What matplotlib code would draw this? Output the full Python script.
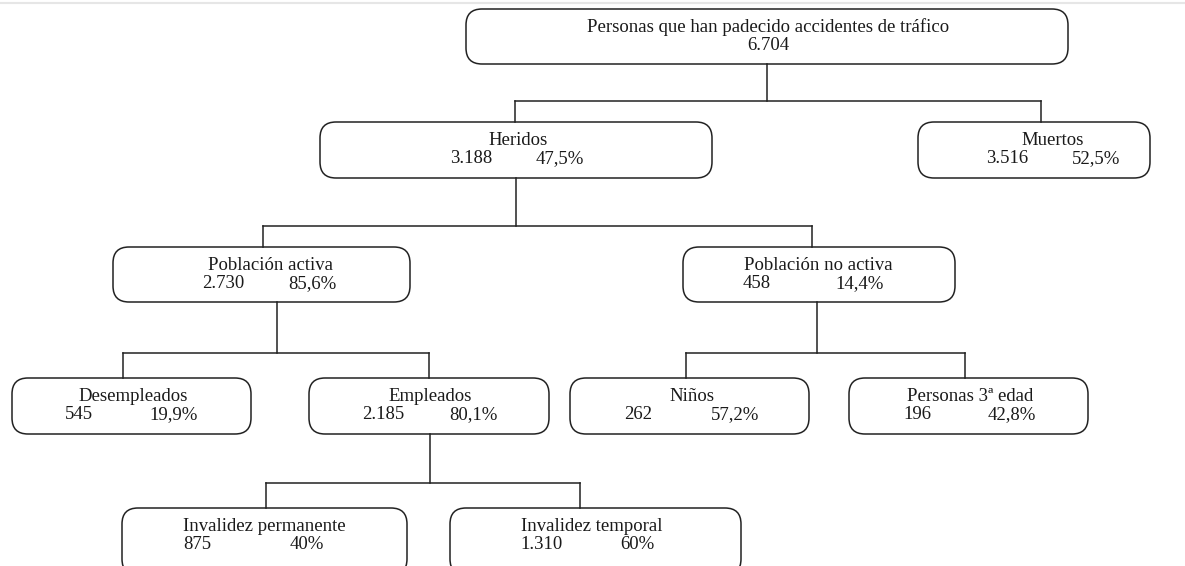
import matplotlib
matplotlib.use("Agg")
import matplotlib.pyplot as plt
from matplotlib.patches import FancyBboxPatch

# ---- data ----
labels = ["Personas que han padecido accidentes de tráfico", "Heridos", "Muertos",
          "Población activa", "Población no activa", "Desempleados", "Empleados",
          "Niños", "Personas 3ª edad", "Invalidez permanente", "Invalidez temporal"]
values = ["6.704", "3.188", "3.516", "2.730", "458", "545", "2.185", "262", "196", "875", "1.310"]
percents = ["", "47,5%", "52,5%", "85,6%", "14,4%", "19,9%", "80,1%", "57,2%", "42,8%", "40%", "60%"]
parents = [None, 0, 0, 1, 1, 3, 3, 4, 4, 6, 6]

# ---- layout (pixel coordinates) ----
boxes = [(466, 9, 1068, 64), (320, 122, 712, 178), (918, 122, 1150, 178),
         (113, 247, 410, 302), (683, 247, 955, 302), (12, 378, 251, 434),
         (309, 378, 549, 434), (570, 378, 809, 434), (849, 378, 1088, 434),
         (122, 508, 407, 575), (450, 508, 741, 575)]
title_x = [768, 518, 1053, 271, 818, 133, 430, 692, 970, 264, 592]
num_x = [768, 471, 1007, 223, 757, 79, 383, 638, 917, 197, 542]
pct_x = [None, 560, 1096, 312, 860, 174, 473, 735, 1012, 307, 637]
top_x = [None, 515, 1041, 263, 812, 123, 429, 686, 965, 266, 580]
bottom_x = {0: 767, 1: 516, 3: 277, 4: 817, 6: 430}
bus_y = {0: 101, 1: 226, 3: 353, 4: 353, 6: 483}
title_base = 23
num_base = 41

W, H = 1185, 566
fig = plt.figure(figsize=(W / 100, H / 100), dpi=100)
ax = fig.add_axes([0, 0, 1, 1])
ax.set_xlim(0, W)
ax.set_ylim(H, 0)
ax.axis("off")

font = dict(family="Liberation Serif", fontsize=13.5, color="#1a1a1a")
lc = "#222222"

# faint scan edge at the top
ax.plot([0, W], [2.5, 2.5], color="#e6e6e6", lw=1.5)

for i, lab in enumerate(labels):
    x0, y0, x1, y1 = boxes[i]
    r = 16
    p = FancyBboxPatch((x0 + r, y0 + r), (x1 - x0) - 2 * r, (y1 - y0) - 2 * r,
                       boxstyle=f"round,pad={r},rounding_size={r}",
                       fc="white", ec=lc, lw=1.1)
    ax.add_patch(p)
    ax.text(title_x[i], y0 + title_base, lab, ha="center", va="baseline", **font)
    ax.text(num_x[i], y0 + num_base, values[i], ha="center", va="baseline", **font)
    if pct_x[i] is not None:
        ax.text(pct_x[i], y0 + num_base, percents[i], ha="center", va="baseline", **font)

# connectors
for par in sorted(set(p for p in parents if p is not None)):
    kids = [k for k, p in enumerate(parents) if p == par]
    bx = bottom_x[par]
    by = bus_y[par]
    ax.plot([bx, bx], [boxes[par][3], by], color=lc, lw=1.1)
    xs = [top_x[k] for k in kids]
    ax.plot([min(xs), max(xs)], [by, by], color=lc, lw=1.1)
    for k in kids:
        ax.plot([top_x[k], top_x[k]], [by, boxes[k][1]], color=lc, lw=1.1)

fig.savefig("out.png", dpi=100, facecolor="white")
